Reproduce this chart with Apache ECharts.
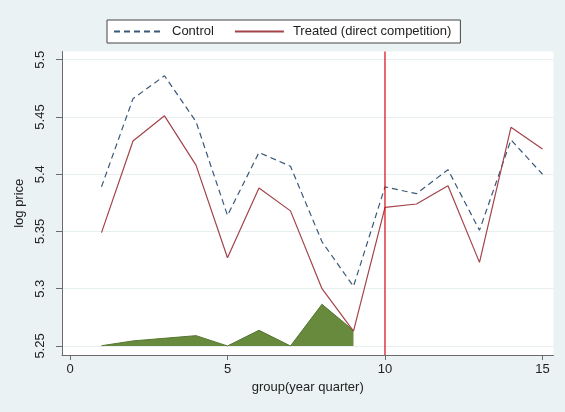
<!DOCTYPE html>
<html>
<head>
<meta charset="utf-8">
<title>log price by group</title>
<script src="https://cdn.jsdelivr.net/npm/echarts@6/dist/echarts.min.js"></script>
<style>
  html, body { margin: 0; padding: 0; background: #eaf2f3; }
  #chart { width: 565px; height: 412px; }
</style>
</head>
<body>
<div id="chart"></div>
<script>
// Quarter index (x) for every observation
const quarters = [1, 2, 3, 4, 5, 6, 7, 8, 9, 10, 11, 12, 13, 14, 15];

// Mean log price, control group
const controlPrice = [5.389, 5.466, 5.486, 5.446, 5.364, 5.419, 5.407, 5.341, 5.302,
                      5.389, 5.383, 5.404, 5.351, 5.430, 5.400];

// Mean log price, treated group (direct competition)
const treatedPrice = [5.349, 5.429, 5.451, 5.408, 5.327, 5.388, 5.368, 5.300, 5.263,
                      5.371, 5.374, 5.390, 5.323, 5.441, 5.422];

// Shaded band drawn on top of the 5.25 baseline (quarters 1-9)
const bandQuarters = [1, 2, 3, 4, 5, 6, 7, 8, 9];
const bandValues = [5.2502, 5.2544, 5.2567, 5.2590, 5.2500, 5.2637, 5.2500, 5.2864, 5.2634];

// Axis ticks, axis extents and the treatment start quarter
const xTicks = [0, 5, 10, 15];
const yTicks = [5.25, 5.3, 5.35, 5.4, 5.45, 5.5];
const xRange = [-0.254, 15.35];
const yRange = [5.2421, 5.5072];
const treatmentQuarter = 10;
const bandBase = 5.25;

const pairs = (xs, ys) => xs.map((x, i) => [x, ys[i]]);

const font = 'Liberation Sans, Arial, sans-serif';
const textColor = '#222';
const axisColor = '#6b6b6b';

const chart = echarts.init(document.getElementById('chart'), null, { renderer: 'canvas' });

chart.setOption({
  backgroundColor: '#eaf2f3',
  animation: false,
  textStyle: { fontFamily: font, color: textColor },
  grid: {
    left: 62, right: 11.5, top: 51.5, bottom: 57,
    show: true, backgroundColor: '#ffffff', borderWidth: 0,
    containLabel: false
  },
  legend: {
    data: ['Control', 'Treated (direct competition)'],
    left: 107, top: 20,
    padding: [5, 9, 5, 6],
    itemWidth: 49, itemHeight: 12, itemGap: 20,
    backgroundColor: '#ffffff',
    borderColor: '#444', borderWidth: 1, borderRadius: 0,
    itemStyle: { color: 'transparent', borderColor: 'transparent', borderWidth: 0 },
    textStyle: { fontFamily: font, fontSize: 13, color: textColor, padding: [0, 0, 0, 4] }
  },
  xAxis: {
    type: 'value',
    min: xRange[0], max: xRange[1],
    name: 'group(year quarter)',
    nameLocation: 'middle', nameGap: 23,
    nameTextStyle: { fontFamily: font, fontSize: 13, color: textColor },
    axisLine: { show: true, onZero: false, lineStyle: { color: axisColor, width: 1 } },
    axisTick: { show: true, length: 5, customValues: xTicks, lineStyle: { color: axisColor } },
    axisLabel: { customValues: xTicks, margin: 8, fontFamily: font, fontSize: 13, color: textColor },
    splitLine: { show: false }
  },
  yAxis: {
    type: 'value',
    min: yRange[0], max: yRange[1],
    name: 'log price',
    nameLocation: 'middle', nameGap: 27,
    nameTextStyle: { fontFamily: font, fontSize: 13, color: textColor },
    axisLine: { show: true, onZero: false, lineStyle: { color: axisColor, width: 1 } },
    axisTick: { show: true, length: 6, customValues: yTicks, lineStyle: { color: axisColor } },
    axisLabel: { customValues: yTicks, rotate: 90, margin: 15, fontFamily: font, fontSize: 13, color: textColor },
    splitLine: { show: true, lineStyle: { color: '#e6eef0', width: 1 } }
  },
  series: [
    {
      name: 'band',
      type: 'line',
      data: pairs(bandQuarters, bandValues),
      symbol: 'none',
      silent: true,
      lineStyle: { color: '#55752f', width: 1 },
      areaStyle: { color: '#678a3d', opacity: 1, origin: bandBase },
      z: 1
    },
    {
      name: 'Control',
      type: 'line',
      data: pairs(quarters, controlPrice),
      symbol: 'none',
      lineStyle: { color: '#3a5878', width: 1.2, type: [6, 4] },
      itemStyle: { color: '#3a5878' },
      z: 3
    },
    {
      name: 'Treated (direct competition)',
      type: 'line',
      data: pairs(quarters, treatedPrice),
      symbol: 'none',
      lineStyle: { color: '#a3434a', width: 1.2 },
      itemStyle: { color: '#a3434a' },
      z: 3
    },
    {
      // vertical reference line at the start of treatment
      name: 'treatment start',
      type: 'line',
      data: [[treatmentQuarter, yRange[0]], [treatmentQuarter, yRange[1]]],
      symbol: 'none',
      silent: true,
      lineStyle: { color: '#d80a10', width: 1.2 },
      itemStyle: { color: '#d80a10' },
      z: 4
    }
  ]
});
</script>
</body>
</html>
